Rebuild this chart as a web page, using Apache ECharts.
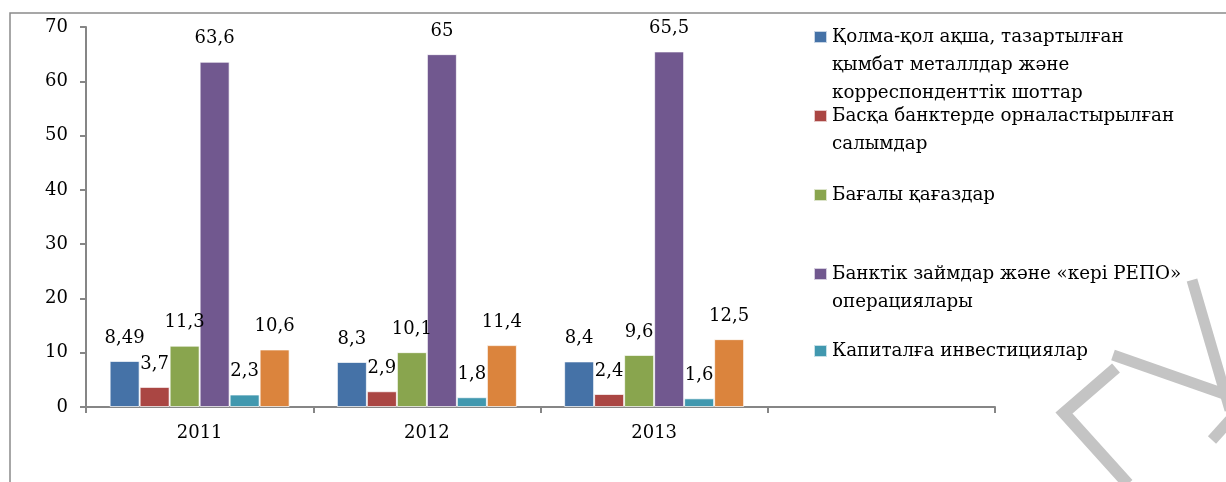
<!DOCTYPE html>
<html>
<head>
<meta charset="utf-8">
<script src="https://cdn.jsdelivr.net/npm/echarts@6/dist/echarts.min.js"></script>
<style>
html,body{margin:0;padding:0;background:#fff;}
#chart{width:1226px;height:482px;}
</style>
</head>
<body>
<div id="chart"></div>
<script>
// ---- data ----
const categories = ['2011', '2012', '2013', ''];
const seriesNames = [
  'Қолма-қол ақша, тазартылған қымбат металлдар және корреспонденттік шоттар',
  'Басқа банктерде орналастырылған салымдар',
  'Бағалы қағаздар',
  'Банктік займдар және «кері РЕПО» операциялары',
  'Капиталға инвестициялар',
  'Басқа активтер'
];
const legendLines = [
  ['Қолма-қол ақша, тазартылған', 'қымбат металлдар және', 'корреспонденттік шоттар'],
  ['Басқа банктерде орналастырылған', 'салымдар'],
  ['Бағалы қағаздар'],
  ['Банктік займдар және «кері РЕПО»', 'операциялары'],
  ['Капиталға инвестициялар']
];
const cashValues = [8.49, 8.3, 8.4, null];
const depositValues = [3.7, 2.9, 2.4, null];
const securitiesValues = [11.3, 10.1, 9.6, null];
const loansValues = [63.6, 65, 65.5, null];
const investValues = [2.3, 1.8, 1.6, null];
const otherValues = [10.6, 11.4, 12.5, null];
const yTicks = [0, 10, 20, 30, 40, 50, 60, 70];

const allValues = [cashValues, depositValues, securitiesValues, loansValues, investValues, otherValues];
const colors = ['#4572A7', '#AA4643', '#89A54E', '#71588F', '#4198AF', '#DB843D'];

const FONT = 'DejaVu Serif';
const chart = echarts.init(document.getElementById('chart'));

const series = allValues.map((vals, i) => ({
  name: seriesNames[i],
  type: 'bar',
  data: vals,
  barWidth: 30,
  barGap: '0%',
  itemStyle: { color: colors[i], borderColor: 'rgba(255,255,255,0.7)', borderWidth: 1 },
  label: {
    show: true,
    position: 'top',
    distance: 14,
    color: '#000',
    fontFamily: FONT,
    fontSize: 18,
    formatter: p => (p.value == null ? '' : String(p.value).replace('.', ','))
  }
}));

// legend items: icon aligned with first text line (blank lines prepended)
const L = 28;
const legendCenters = [37, 116, 195, 274, 351];
const legends = legendLines.map((lines, i) => {
  const n = lines.length;
  const text = new Array(n - 1).fill('').concat(lines).join('\n');
  const h = (2 * n - 1) * L;
  return {
    data: [seriesNames[i]],
    left: 813,
    top: legendCenters[i] - h / 2,
    padding: 0,
    itemWidth: 13,
    itemHeight: 12,
    icon: 'rect',
    selectedMode: false,
    formatter: () => text,
    textStyle: { fontFamily: FONT, fontSize: 18.3, color: '#000', lineHeight: L }
  };
});

const grey = '#c4c4c4';
chart.setOption({
  animation: false,
  backgroundColor: '#fff',
  textStyle: { fontFamily: FONT },
  grid: { left: 86, right: 231, top: 27, bottom: 75 },
  legend: legends,
  xAxis: {
    type: 'category',
    data: categories,
    axisLine: { lineStyle: { color: '#868686', width: 2 } },
    axisTick: { show: true, length: 6, interval: 0, alignWithLabel: false, lineStyle: { color: '#868686', width: 2 } },
    axisLabel: { color: '#000', fontFamily: FONT, fontSize: 18, margin: 17, interval: 0 },
    splitLine: { show: false }
  },
  yAxis: {
    type: 'value',
    min: yTicks[0],
    max: yTicks[yTicks.length - 1],
    interval: yTicks[1] - yTicks[0],
    axisLine: { show: true, lineStyle: { color: '#868686', width: 2 } },
    axisTick: { show: true, length: 6, lineStyle: { color: '#868686', width: 2 } },
    axisLabel: { color: '#000', fontFamily: FONT, fontSize: 18, margin: 18 },
    splitLine: { show: false }
  },
  series: series,
  graphic: [
    { type: 'polyline', silent: true, shape: { points: [[10, 482], [10, 13], [1226, 13]] },
      style: { stroke: '#8a8a8a', lineWidth: 1.5, fill: null } },
    // scanned watermark strokes
    { type: 'polyline', silent: true, shape: { points: [[1192, 280], [1230, 410]] },
      style: { stroke: grey, lineWidth: 11, fill: null } },
    { type: 'polyline', silent: true, shape: { points: [[1113, 355], [1230, 396]] },
      style: { stroke: grey, lineWidth: 11, fill: null } },
    { type: 'polyline', silent: true, shape: { points: [[1116, 368], [1064, 413], [1128, 484]] },
      style: { stroke: grey, lineWidth: 12, fill: null, lineJoin: 'miter' } },
    { type: 'polyline', silent: true, shape: { points: [[1212, 440], [1230, 420]] },
      style: { stroke: grey, lineWidth: 11, fill: null } }
  ]
});
</script>
</body>
</html>
